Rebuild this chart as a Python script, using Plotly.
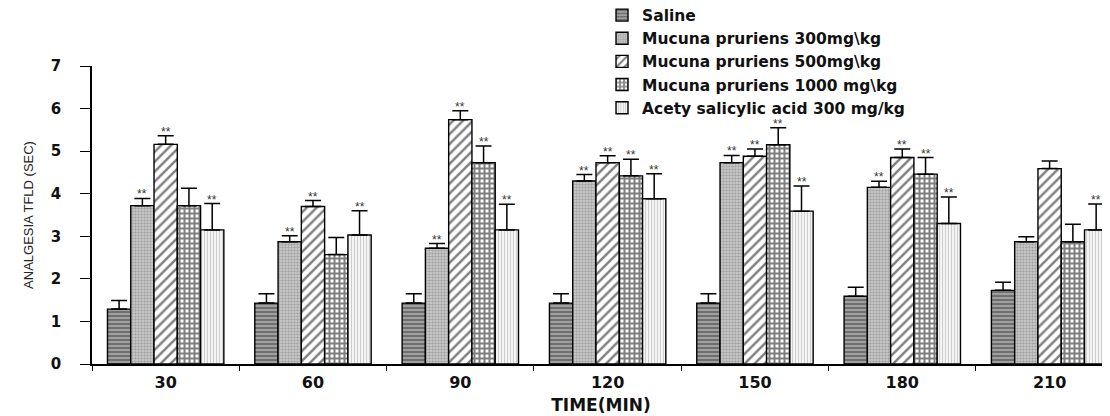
import plotly.graph_objects as go

times = ["30", "60", "90", "120", "150", "180", "210"]

series_names = [
    "Saline",
    "Mucuna pruriens 300mg\\kg",
    "Mucuna pruriens 500mg\\kg",
    "Mucuna pruriens 1000 mg\\kg",
    "Acety salicylic acid 300 mg/kg",
]

saline = [1.29, 1.43, 1.43, 1.43, 1.43, 1.59, 1.73]
mp300 = [3.72, 2.87, 2.72, 4.30, 4.73, 4.15, 2.87]
mp500 = [5.16, 3.70, 5.74, 4.73, 4.88, 4.85, 4.59]
mp1000 = [3.72, 2.57, 4.73, 4.42, 5.15, 4.46, 2.87]
asa = [3.15, 3.03, 3.15, 3.88, 3.59, 3.30, 3.15]

saline_err = [0.20, 0.22, 0.22, 0.22, 0.22, 0.21, 0.19]
mp300_err = [0.17, 0.14, 0.11, 0.15, 0.17, 0.14, 0.12]
mp500_err = [0.20, 0.14, 0.21, 0.16, 0.17, 0.20, 0.18]
mp1000_err = [0.41, 0.40, 0.39, 0.39, 0.40, 0.39, 0.41]
asa_err = [0.62, 0.57, 0.60, 0.59, 0.59, 0.62, 0.61]

saline_sig = [False] * 7
mp300_sig = [True, True, True, True, True, True, False]
mp500_sig = [True, True, True, True, True, True, False]
mp1000_sig = [False, False, True, True, True, True, False]
asa_sig = [True, True, True, True, True, True, True]

values = [saline, mp300, mp500, mp1000, asa]
errors = [saline_err, mp300_err, mp500_err, mp1000_err, asa_err]
sigs = [saline_sig, mp300_sig, mp500_sig, mp1000_sig, asa_sig]

patterns = [
    dict(shape="-", fgcolor="#333333", bgcolor="#a0a0a0", size=4, solidity=0.45),
    dict(shape=".", fgcolor="#777777", bgcolor="#cfcfcf", size=3, solidity=0.5),
    dict(shape="/", fgcolor="#000000", bgcolor="#ffffff", size=7, solidity=0.35),
    dict(shape="+", fgcolor="#000000", bgcolor="#ffffff", size=5, solidity=0.65),
    dict(shape="|", fgcolor="#a8a8a8", bgcolor="#f4f4f4", size=3, solidity=0.35),
]

BARGAP = 0.21
fig = go.Figure()
for name, vals, errs, pat in zip(series_names, values, errors, patterns):
    fig.add_trace(go.Bar(
        name=name, x=times, y=vals,
        marker=dict(pattern=pat, line=dict(color="black", width=1.4)),
        error_y=dict(type="data", symmetric=False, array=errs,
                     arrayminus=[0] * len(errs), color="black",
                     thickness=1.5, width=8),
    ))

n = len(series_names)
w = (1 - BARGAP) / n
for i, (vals, errs, sig) in enumerate(zip(values, errors, sigs)):
    for k in range(len(times)):
        if sig[k]:
            fig.add_annotation(
                x=k + (i - (n - 1) / 2) * w, y=vals[k] + errs[k],
                xref="x", yref="y", text="**", showarrow=False,
                yanchor="bottom", xanchor="center", yshift=-5,
                font=dict(family="Liberation Sans, Arial", size=12, color="#333"),
            )

font_main = "DejaVu Sans, Liberation Sans, Arial"
fig.update_layout(
    width=1110, height=416,
    margin=dict(l=84, r=8, t=58, b=60, autoexpand=False),
    paper_bgcolor="white", plot_bgcolor="white",
    barmode="group", bargap=BARGAP, bargroupgap=0,
    showlegend=True,
    legend=dict(
        x=0.501, y=1.2265, xanchor="left", yanchor="top",
        font=dict(family=font_main, size=15.5, color="#111", weight="bold"),
        tracegroupgap=0, bgcolor="rgba(0,0,0,0)",
    ),
    xaxis=dict(
        type="category", range=[-0.5, 6.41], automargin=False,
        showline=True, linecolor="black", linewidth=1.5,
        ticks="outside", tickson="boundaries", ticklen=5, tickcolor="black",
        ticklabelstandoff=3,
        tickfont=dict(family=font_main, size=16, color="#111", weight="bold"),
        title=dict(text="TIME(MIN)", standoff=8,
                   font=dict(family=font_main, size=17, color="#111", weight="bold")),
        showgrid=False, zeroline=False,
    ),
    yaxis=dict(
        range=[0, 7], dtick=1, automargin=False,
        showline=True, linecolor="black", linewidth=1.5,
        ticks="outside", ticklen=10, tickcolor="black",
        ticklabelstandoff=16,
        tickfont=dict(family=font_main, size=15, color="#111", weight="bold"),
        title=dict(text="ANALGESIA TFLD (SEC)", standoff=14,
                   font=dict(family="Liberation Sans, Arial", size=13, color="#222")),
        showgrid=False, zeroline=False,
    ),
)

fig.write_html("out.html")
